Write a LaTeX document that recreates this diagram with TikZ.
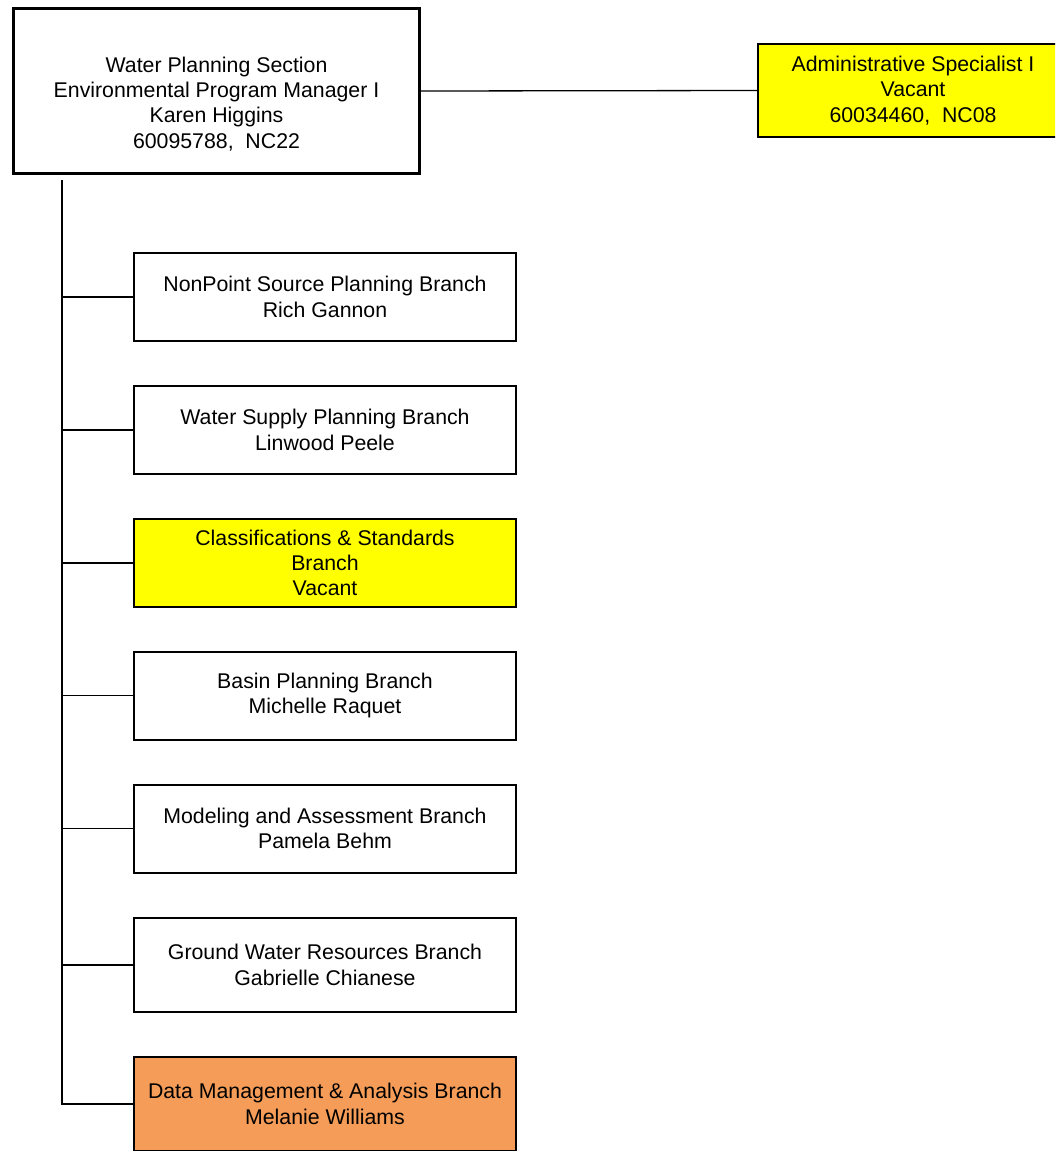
\documentclass[tikz,border=0pt]{standalone}
\usepackage{fontspec}
\setmainfont{Liberation Sans}
\usepackage{xcolor}
\usepackage{tikz}
\usetikzlibrary{positioning}
\definecolor{vacant}{HTML}{FFFF00}
\definecolor{datamgmt}{HTML}{F59D58}
\tikzstyle{section} = [rectangle, draw=black, line width=2.6pt, minimum width=406pt, minimum height=165pt, align=center, font=\fontsize{21.3}{25.3}\selectfont]
\tikzstyle{branch} = [rectangle, draw=black, line width=2pt, minimum width=382pt, minimum height=88pt, align=center, font=\fontsize{21.3}{25.3}\selectfont]
\tikzstyle{link} = [line width=1.3pt]

\begin{document}
\begin{tikzpicture}[x=1pt,y=-1pt]
    \useasboundingbox (0,0) rectangle (1055,1151);
    \clip (0,0) rectangle (1055,1151);

    \node[section] (wps) at (216.5,91) {\rule{0pt}{41pt}Water Planning Section\\Environmental Program Manager I\\Karen Higgins\\60095788,\ \ NC22};
    \node[branch, fill=vacant, minimum width=310pt, minimum height=93pt] (admin) at (913,90.5) {Administrative Specialist I\\Vacant\\60034460,\ \ NC08};

    \node[branch] (nps) at (325,297) {NonPoint Source Planning Branch\\Rich Gannon};
    \node[branch] (wsp) at (325,430) {Water Supply Planning Branch\\Linwood Peele};
    \node[branch, fill=vacant] (cls) at (325,563) {Classifications \& Standards\\Branch\\Vacant};
    \node[branch] (bpb) at (325,695.5) {Basin Planning Branch\\Michelle Raquet};
    \node[branch] (mab) at (325,828.5) {Modeling and Assessment Branch\\Pamela Behm};
    \node[branch, minimum height=94pt] (gwr) at (325,965) {Ground Water Resources Branch\\Gabrielle Chianese};
    \node[branch, fill=datamgmt, minimum height=94pt] (dma) at (325,1104) {Data Management \& Analysis Branch\\Melanie Williams};

    \coordinate (trunk) at (62,180);

    \draw[link] (wps.east) -- (admin.west);
    \draw[link] (trunk) |- (dma.west);
    \foreach \b in {nps,wsp,cls,bpb,mab,gwr}
        \draw[link] (\b.west) -- (\b.west -| trunk);
\end{tikzpicture}
\end{document}
